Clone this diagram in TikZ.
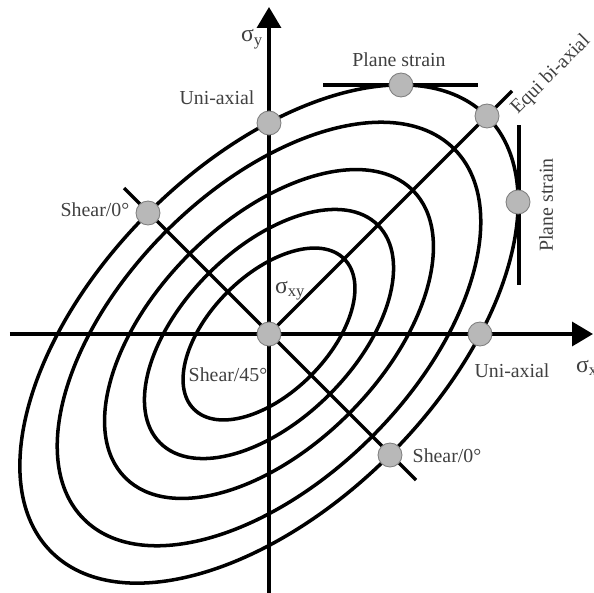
\documentclass[tikz,border=0pt]{standalone}
\usepackage{fontspec}
\setmainfont{Liberation Serif}
\usetikzlibrary{arrows.meta}
\definecolor{labelgray}{gray}{0.25}
\definecolor{dotgray}{gray}{0.72}

\begin{document}
\begin{tikzpicture}[x=0.02cm, y=0.02cm,
  curve/.style={line width=2pt},
  axis/.style={line width=2pt, -{Triangle[length=0.42cm, width=0.48cm]}},
  pt/.style={circle, fill=dotgray, draw=gray, line width=0.5pt, minimum size=0.48cm, inner sep=0pt},
  lbl/.style={text=labelgray, font=\fontsize{11.3}{13}\selectfont, inner sep=1pt},
  sig/.style={text=labelgray, font=\fontsize{13.5}{15}\selectfont, inner sep=1pt}]
  \useasboundingbox (-269,-258) rectangle (325,334);
  % origin and axis ends
  \coordinate (O) at (0,0);
  \coordinate (xs) at (-259,0);
  \coordinate (xe) at (324,0);
  \coordinate (ys) at (0,-262);
  \coordinate (ye) at (0,327);
  % yield loci: scaled ellipses, major axis along 45 deg
  \foreach \s in {1,0.85,0.66,0.5,0.345}
    \draw[curve, rotate=45] (O) ellipse ({308*\s} and {171*\s});
  % axes
  \draw[axis] (xs) -- (xe);
  \draw[axis] (ys) -- (ye);
  % diagonals
  \coordinate (eq) at (243,243);
  \coordinate (sa) at (-145,146);
  \coordinate (sb) at (147,-146);
  \draw[curve] (O) -- (eq);
  \draw[curve] (sa) -- (sb);
  % plane strain tangents
  \coordinate (ta) at (54,249);
  \coordinate (tb) at (209,249);
  \coordinate (tc) at (250,209);
  \coordinate (td) at (250,49);
  \draw[curve] (ta) -- (tb);
  \draw[curve] (tc) -- (td);
  % stress states on the outer locus
  \node[pt] (c0) at (O) {};
  \node[pt] (ua1) at (0,211) {};
  \node[pt] (ua2) at (211,0) {};
  \node[pt] (sh1) at (-121,121) {};
  \node[pt] (sh2) at (121,-121) {};
  \node[pt] (eb) at (218,218) {};
  \node[pt] (ps1) at (132,249) {};
  \node[pt] (ps2) at (249,132) {};
  % labels
  \node[sig, anchor=base west] (lsy) at (-30,292) {σ\textsubscript{y}};
  \node[sig, anchor=base west] (lsx) at (305,-38) {σ\textsubscript{x}};
  \node[sig, anchor=base west] (lsxy) at (4,41) {σ\textsubscript{xy}};
  \node[lbl] (lps1) at (130,274) {Plane strain};
  \node[lbl, rotate=45] (leb) at (282,259) {Equi bi-axial};
  \node[lbl, rotate=90] (lps2) at (277,129) {Plane strain};
  \node[lbl] (lua1) at (-52,236) {Uni-axial};
  \node[lbl] (lua2) at (243,-37) {Uni-axial};
  \node[lbl] (lsh1) at (-174,124) {Shear/0°};
  \node[lbl] (lsh2) at (178,-122) {Shear/0°};
  \node[lbl] (lsh45) at (-41,-41) {Shear/45°};
\end{tikzpicture}
\end{document}
